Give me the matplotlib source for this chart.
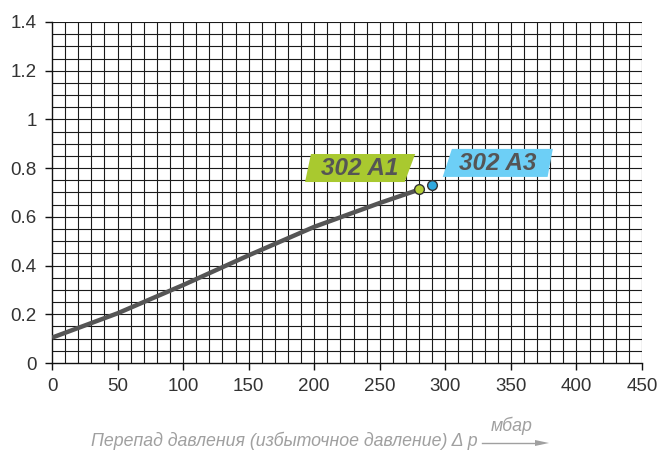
import numpy as np
from matplotlib import pyplot as plt
from matplotlib.patches import Polygon

# flow curve
dp = [0, 50, 100, 150, 200, 250, 280]
flow = [0.104, 0.204, 0.32, 0.442, 0.559, 0.657, 0.712]

points_x = [280, 290]
points_y = [0.714, 0.73]
point_colors = ['#b5cf35', '#2fa9e0']

labels = ['302 A1', '302 A3']
label_colors = ['#a9c92f', '#6dcff6']
label_boxes = [
    [(193, 0.743), (269, 0.743), (277, 0.858), (197.5, 0.858)],
    [(298, 0.764), (378, 0.764), (382, 0.879), (305, 0.879)],
]
label_pos = [(235, 0.80), (340, 0.821)]

xticks = np.arange(0, 451, 50)
yticks = [0, 0.2, 0.4, 0.6, 0.8, 1.0, 1.2, 1.4]
ytick_labels = ['0', '0.2', '0.4', '0.6', '0.8', '1', '1.2', '1.4']

fig = plt.figure(figsize=(6.64, 4.5), dpi=100)
ax = fig.add_axes([52 / 664, 87 / 450, 590 / 664, 341 / 450])

ax.set_xlim(0, 450)
ax.set_ylim(0, 1.4)

for x in np.arange(10, 451, 10):
    ax.axvline(x, color='#1a1a1a', lw=0.8, zorder=1)
for y in np.arange(0.05, 1.401, 0.05):
    ax.axhline(y, color='#1a1a1a', lw=0.8, zorder=1)

ax.plot(dp, flow, color='#555555', lw=3.2, solid_capstyle='butt',
        solid_joinstyle='round', zorder=3)

for box, col, txt, pos in zip(label_boxes, label_colors, labels, label_pos):
    ax.add_patch(Polygon(box, closed=True, facecolor=col, edgecolor='none', zorder=4))
    ax.text(pos[0], pos[1], txt, fontsize=17.5, fontweight='bold', fontstyle='italic',
            family='Liberation Sans', color='#555555', ha='center', va='center', zorder=5)

for x, y, c in zip(points_x, points_y, point_colors):
    ax.plot(x, y, 'o', ms=7, mfc=c, mec='#333333', mew=1, zorder=6)

for s in ['top', 'right']:
    ax.spines[s].set_visible(False)
for s in ['left', 'bottom']:
    ax.spines[s].set_color('#111111')
    ax.spines[s].set_linewidth(1)

ax.set_xticks(xticks)
ax.set_yticks(yticks)
ax.set_yticklabels(ytick_labels)
ax.tick_params(direction='out', length=5, width=1, colors='#111111',
               labelcolor='#333333', labelsize=13.5, pad=6)
for lab in ax.get_xticklabels() + ax.get_yticklabels():
    lab.set_family('Liberation Sans')

fig.text(284 / 664, 1 - 441 / 450, 'Перепад давления (избыточное давление) Δ p',
         fontsize=12.8, fontstyle='italic', color='#a0a0a0', ha='center', va='center',
         family='Liberation Sans')
fig.text(512 / 664, 1 - 426 / 450, 'мбар', fontsize=12.8, fontstyle='italic',
         color='#a0a0a0', ha='center', va='center', family='Liberation Sans')
fig.add_artist(plt.Line2D([482 / 664, 540 / 664], [1 - 443 / 450, 1 - 443 / 450],
                          color='#a0a0a0', lw=1, transform=fig.transFigure))
fig.patches.append(Polygon([(535 / 664, 1 - 440 / 450), (549 / 664, 1 - 443 / 450),
                            (535 / 664, 1 - 446 / 450)], closed=True,
                           transform=fig.transFigure, facecolor='#a0a0a0', edgecolor='none'))

fig.savefig('out.png', dpi=100)
